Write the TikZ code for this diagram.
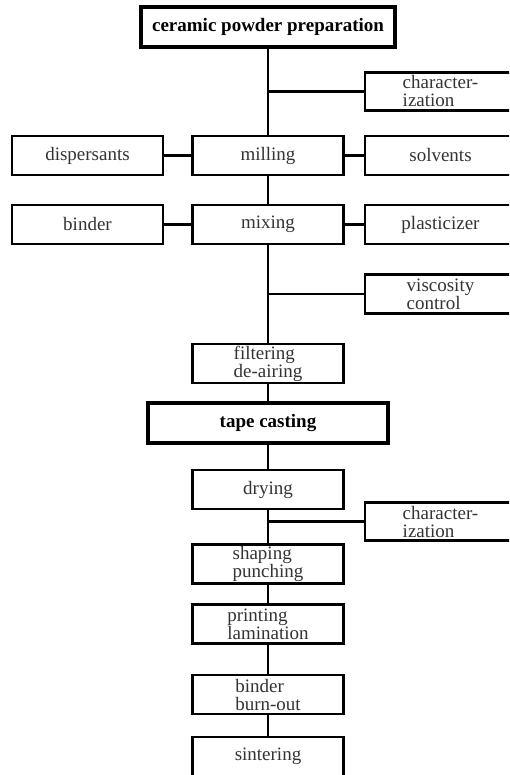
\documentclass[tikz,border=0pt]{standalone}
\usepackage{fontspec}
\setmainfont{Liberation Serif}
\usepackage{tikz}

\begin{document}
\begin{tikzpicture}[x=1pt, y=-1pt, line width=2.2pt,
                    box/.style={draw, rectangle, minimum width=151pt, minimum height=39pt,
                                inner sep=0pt, align=left, text=black!80,
                                font=\fontsize{19}{18}\selectfont},
                    mainbox/.style={box, line width=3.6pt, text=black,
                                font=\fontsize{19}{18}\selectfont\bfseries}
                   ]
        \clip (0,0) rectangle (509,775);

        % main column
        \node[mainbox, minimum width=254pt, minimum height=40pt] (prep) at (268,27) {ceramic powder preparation};
        \node[box] (milling) at (268,155.5) {milling};
        \node[box] (mixing) at (268,224.5) {mixing};
        \node[box] (filter) at (268,363.5) {filtering\\de-airing};
        \node[mainbox, minimum width=240pt, minimum height=40pt] (casting) at (268,423) {tape casting};
        \node[box] (drying) at (268,489.5) {drying};
        \node[box] (shaping) at (268,564) {shaping\\punching};
        \node[box] (printing) at (268,624) {printing\\lamination};
        \node[box] (burnout) at (268,694.5) {binder\\burn-out};
        \node[box] (sinter) at (268,756.5) {sintering};

        % side boxes
        \node[box, minimum height=38pt] (charA) at (440.5,91.5) {character-\\ization};
        \node[box] (dispers) at (87.5,155.5) {dispersants};
        \node[box] (solvents) at (440.5,155.5) {solvents};
        \node[box] (binder) at (87.5,224.5) {binder};
        \node[box] (plastic) at (440.5,224.5) {plasticizer};
        \node[box] (visco) at (440.5,294) {viscosity\\control};
        \node[box, minimum height=38pt] (charB) at (440.5,521.5) {character-\\ization};

        % trunk
        \draw (prep) -- (milling);
        \draw (milling) -- (mixing);
        \draw (mixing) -- (filter);
        \draw (filter) -- (casting);
        \draw (casting) -- (drying);
        \draw (drying) -- (shaping);
        \draw (shaping) -- (printing);
        \draw (printing) -- (burnout);
        \draw (burnout) -- (sinter);

        % branches
        \draw (charA.west) -- (charA.west -| prep);
        \draw (dispers) -- (milling);
        \draw (milling) -- (solvents);
        \draw (binder) -- (mixing);
        \draw (mixing) -- (plastic);
        \draw (visco.west) -- (visco.west -| mixing);
        \draw (charB.west) -- (charB.west -| drying);
\end{tikzpicture}
\end{document}
